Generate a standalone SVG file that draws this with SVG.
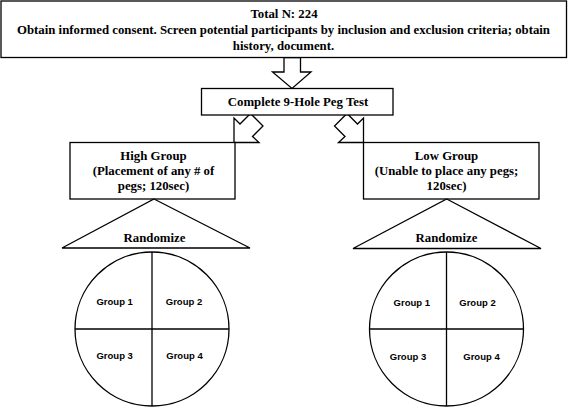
<svg xmlns="http://www.w3.org/2000/svg" width="568" height="410" viewBox="0 0 568 410">
<style>
.b{fill:#fff;stroke:#000;stroke-width:1.3}
.t{font-family:"Liberation Serif","Times New Roman",serif;font-weight:bold;font-size:12.8px;fill:#000;text-anchor:middle}
.g{font-family:"Liberation Sans",Arial,sans-serif;font-weight:bold;font-size:9.5px;fill:#000;text-anchor:middle}
.l{fill:none;stroke:#000;stroke-width:1.3}
</style>
<rect width="568" height="410" fill="#fff"/>
<g id="connectors">
<polygon class="b" points="284,57.5 300.5,57.5 300.5,72 311,72 292,88.5 272.5,72 284,72"/>
<polygon class="b" points="234,142.5 234,118 240,124 250.5,113.5 263,126 252.5,136.5 259,142.5"/>
<polygon class="b" points="363.5,142.5 363.5,118 357.5,124 347,113.5 334.5,126 345,136.5 338.5,142.5"/>
</g>
<g id="top">
<rect class="b" x="1" y="1" width="565.5" height="56.5"/>
<text class="t" x="284" y="17.5">Total N: 224</text>
<text class="t" x="283.5" y="33.5">Obtain informed consent. Screen potential participants by inclusion and exclusion criteria; obtain</text>
<text class="t" x="283.5" y="49.5">history, document.</text>
</g>
<g id="peg">
<rect class="b" x="201.5" y="88.5" width="191.5" height="26.5"/>
<text class="t" x="298" y="106">Complete 9-Hole Peg Test</text>
</g>
<g id="high">
<rect class="b" x="70" y="142.5" width="165" height="56.5"/>
<text class="t" x="153.5" y="159.5">High Group</text>
<text class="t" x="153.5" y="174.5">(Placement of any # of</text>
<text class="t" x="153.5" y="189.5">pegs; 120sec)</text>
</g>
<g id="low">
<rect class="b" x="363.5" y="142.5" width="175.5" height="56.5"/>
<text class="t" x="446.5" y="159.5">Low Group</text>
<text class="t" x="446.5" y="174.5">(Unable to place any pegs;</text>
<text class="t" x="446.5" y="189.5">120sec)</text>
</g>
<g id="rand-high">
<polygon class="b" points="154,199 250,248 62,248"/>
<text class="t" x="154.5" y="241.5">Randomize</text>
</g>
<g id="rand-low">
<polygon class="b" points="446.7,199 541,248.5 353,248.5"/>
<text class="t" x="446.5" y="242">Randomize</text>
</g>
<g id="circle-high">
<circle class="b" cx="152" cy="329" r="77"/>
<line class="l" x1="75" y1="329" x2="229" y2="329"/>
<line class="l" x1="152" y1="252" x2="152" y2="406"/>
<text class="g" x="114.7" y="305">Group 1</text>
<text class="g" x="184" y="305">Group 2</text>
<text class="g" x="114.7" y="359">Group 3</text>
<text class="g" x="184.5" y="359">Group 4</text>
</g>
<g id="circle-low">
<circle class="b" cx="446.5" cy="329" r="77"/>
<line class="l" x1="369.5" y1="329" x2="523.5" y2="329"/>
<line class="l" x1="446.5" y1="252" x2="446.5" y2="406"/>
<text class="g" x="411.8" y="306">Group 1</text>
<text class="g" x="477.5" y="306">Group 2</text>
<text class="g" x="408" y="359.5">Group 3</text>
<text class="g" x="481.5" y="359.5">Group 4</text>
</g>
</svg>
